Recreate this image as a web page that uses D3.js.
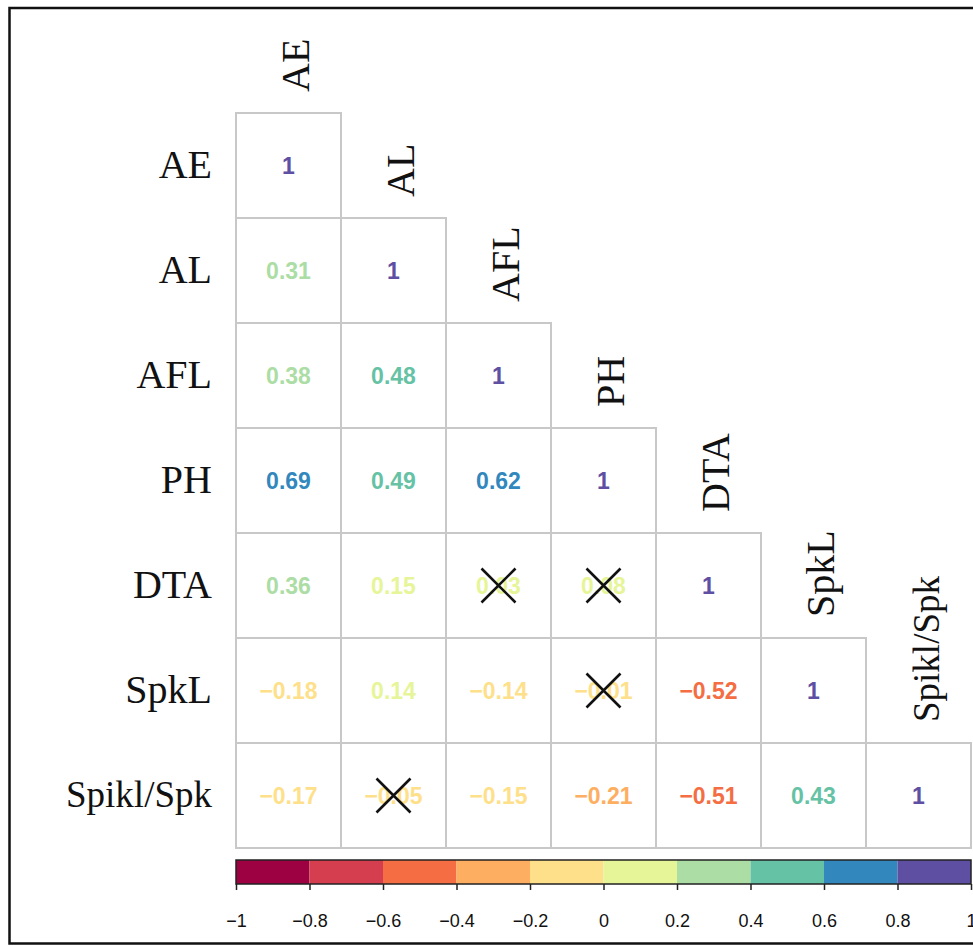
<!DOCTYPE html>
<html>
<head>
<meta charset="utf-8">
<script src="https://cdn.jsdelivr.net/npm/d3@7"></script>
<style>
  html, body { margin: 0; padding: 0; background: #fff; }
  svg { display: block; }
</style>
</head>
<body>
<svg id="chart" width="973" height="946"></svg>
<script>
// ---- data ----
const variables = ["AE", "AL", "AFL", "PH", "DTA", "SpkL", "Spikl/Spk"];
// lower-triangle correlation rows (row i has i+1 values)
const rowAE       = [1];
const rowAL       = [0.31, 1];
const rowAFL      = [0.38, 0.48, 1];
const rowPH       = [0.69, 0.49, 0.62, 1];
const rowDTA      = [0.36, 0.15, 0.03, 0.08, 1];
const rowSpkL     = [-0.18, 0.14, -0.14, -0.01, -0.52, 1];
const rowSpiklSpk = [-0.17, -0.05, -0.15, -0.21, -0.51, 0.43, 1];
const corrRows = [rowAE, rowAL, rowAFL, rowPH, rowDTA, rowSpkL, rowSpiklSpk];
// non-significant pairs [row, col] marked with a cross
const insignificant = [[4, 2], [4, 3], [5, 3], [6, 1]];
const colorbarTicks = [-1, -0.8, -0.6, -0.4, -0.2, 0, 0.2, 0.4, 0.6, 0.8, 1];
const paletteColors = ["#9e0142", "#d53e4f", "#f46d43", "#fdae61", "#fee08b",
                       "#e6f598", "#abdda4", "#66c2a5", "#3288bd", "#5e4fa2"];

// ---- layout ----
const svg = d3.select("#chart");
const gridLeft = 236, gridTop = 113, gridSize = 735;
const n = variables.length;

const x = d3.scaleBand().domain(d3.range(n)).range([gridLeft, gridLeft + gridSize]).padding(0);
const y = d3.scaleBand().domain(d3.range(n)).range([gridTop, gridTop + gridSize]).padding(0);
const color = d3.scaleQuantize().domain([-1, 1]).range(paletteColors);
const fmt = v => v === 1 ? "1" : d3.format(".2f")(v).replace("-", "\u2212");

// outer frame
svg.append("rect")
  .attr("x", 9.5).attr("y", 8).attr("width", 1000).attr("height", 935.5)
  .attr("fill", "none").attr("stroke", "#111").attr("stroke-width", 2.5);

// cells
const cells = [];
corrRows.forEach((row, i) => row.forEach((v, j) => cells.push({ i, j, v })));

svg.append("g").selectAll("rect").data(cells).join("rect")
  .attr("x", d => x(d.j)).attr("y", d => y(d.i))
  .attr("width", x.bandwidth()).attr("height", y.bandwidth())
  .attr("fill", "#fff").attr("stroke", "#c8c8c8").attr("stroke-width", 2);

svg.append("g").selectAll("text").data(cells).join("text")
  .attr("x", d => x(d.j) + x.bandwidth() / 2)
  .attr("y", d => y(d.i) + y.bandwidth() / 2)
  .attr("dy", "0.36em")
  .attr("text-anchor", "middle")
  .attr("font-family", "Liberation Sans, Arial, sans-serif")
  .attr("font-weight", "bold")
  .attr("font-size", 23)
  .attr("fill", d => color(d.v))
  .text(d => fmt(d.v));

// crosses for non-significant
const cr = 17;
const crossG = svg.append("g");
insignificant.forEach(([i, j]) => {
  const cx = x(j) + x.bandwidth() / 2, cy = y(i) + y.bandwidth() / 2;
  crossG.append("path")
    .attr("d", `M${cx - cr},${cy - cr}L${cx + cr},${cy + cr}M${cx - cr},${cy + cr}L${cx + cr},${cy - cr}`)
    .attr("stroke", "#111").attr("stroke-width", 2.6).attr("fill", "none");
});

// row labels
svg.append("g").selectAll("text").data(variables).join("text")
  .attr("x", gridLeft - 24)
  .attr("y", (d, i) => y(i) + y.bandwidth() / 2)
  .attr("dy", "0.3em")
  .attr("text-anchor", "end")
  .attr("font-family", "Liberation Serif, Times New Roman, serif")
  .attr("font-size", (d) => d.length > 6 ? 37 : 40)
  .attr("fill", "#111")
  .text(d => d);

// column labels (rotated, above diagonal cells)
svg.append("g").selectAll("text").data(variables).join("text")
  .attr("transform", (d, i) => `translate(${x(i) + x.bandwidth() / 2 + 20},${y(i) - 21}) rotate(-90)`)
  .attr("text-anchor", "start")
  .attr("font-family", "Liberation Serif, Times New Roman, serif")
  .attr("font-size", (d) => d.length > 6 ? 37 : 40)
  .attr("fill", "#111")
  .text(d => d);

// colorbar
const cbTop = 860, cbH = 24;
const cbX = d3.scaleLinear().domain([-1, 1]).range([gridLeft, gridLeft + gridSize]);
const bins = paletteColors.map((c, k) => ({ c, a: -1 + k * 0.2, b: -1 + (k + 1) * 0.2 }));
svg.append("g").selectAll("rect").data(bins).join("rect")
  .attr("x", d => cbX(d.a)).attr("y", cbTop)
  .attr("width", d => cbX(d.b) - cbX(d.a)).attr("height", cbH)
  .attr("fill", d => d.c);
svg.append("rect")
  .attr("x", cbX(-1)).attr("y", cbTop).attr("width", cbX(1) - cbX(-1)).attr("height", cbH)
  .attr("fill", "none").attr("stroke", "#222").attr("stroke-width", 1.5);

const axis = d3.axisBottom(cbX).tickValues(colorbarTicks).tickSize(6).tickPadding(24)
  .tickFormat(v => String(v).replace("-", "\u2212"));
const axG = svg.append("g").attr("transform", `translate(0,${cbTop + cbH})`).call(axis);
axG.select(".domain").remove();
axG.selectAll(".tick line").attr("stroke", "#222").attr("stroke-width", 1.5);
axG.selectAll(".tick text")
  .attr("font-family", "Liberation Sans, Arial, sans-serif")
  .attr("font-size", 18).attr("fill", "#111");
</script>
</body>
</html>
